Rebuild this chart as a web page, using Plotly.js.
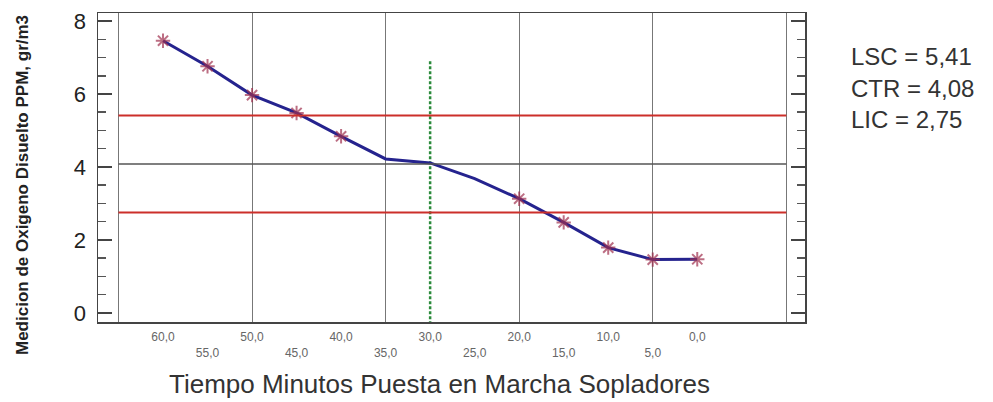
<!DOCTYPE html>
<html>
<head>
<meta charset="utf-8">
<script src="https://cdn.plot.ly/plotly-3.0.1.min.js"></script>
<style>html,body{margin:0;padding:0;background:#fff}#chart{width:993px;height:402px}</style>
</head>
<body>
<div id="chart"></div>
<script>
// ---- data ----
const minutes = [60, 55, 50, 45, 40, 35, 30, 25, 20, 15, 10, 5, 0];
const oxygen  = [7.46, 6.76, 5.97, 5.48, 4.84, 4.22, 4.11, 3.68, 3.13, 2.48, 1.79, 1.46, 1.47];
const tickLabels = ["60,0","55,0","50,0","45,0","40,0","35,0","30,0","25,0","20,0","15,0","10,0","5,0","0,0"];
const gridMinutes = [65, 50, 35, 20, 5, -10];
const yTicks = [0, 2, 4, 6, 8];
const LSC = 5.41, CTR = 4.08, LIC = 2.75;
const startMinute = 30;      // green marker line
const startTop = 6.9;
const limitLabels = ["LSC = 5,41", "CTR = 4,08", "LIC = 2,75"];
const xTitle = "Tiempo Minutos Puesta en Marcha Sopladores";
const yTitle = "Medicion de Oxigeno Disuelto PPM, gr/m3";

// ---- chart ----
const xRange = [67.3, -12.1];
const yRange = [-0.25, 8.22];
const lineX = [gridMinutes[0], gridMinutes[gridMinutes.length - 1]];

const traces = [
  {x: lineX, y: [LSC, LSC], mode: 'lines', line: {color: '#cc2f2a', width: 2}, xaxis: 'x2', hoverinfo: 'skip'},
  {x: lineX, y: [CTR, CTR], mode: 'lines', line: {color: '#555555', width: 1.5}, xaxis: 'x2', hoverinfo: 'skip'},
  {x: lineX, y: [LIC, LIC], mode: 'lines', line: {color: '#cc2f2a', width: 2}, xaxis: 'x2', hoverinfo: 'skip'},
  {x: [startMinute, startMinute], y: [startTop, yRange[0]], mode: 'lines',
   line: {color: '#2a8a3a', width: 2.5, dash: '3px,2px'}, hoverinfo: 'skip'},
  {x: minutes, y: oxygen, mode: 'lines+markers',
   line: {color: '#25238e', width: 3},
   marker: {symbol: 'asterisk-open', size: minutes.map(m => (m >= 25 && m <= 35) ? 0 : 12),
            color: '#a0304f', line: {color: '#a0304f', width: 2}}}
];

const annotations = [
  {text: xTitle, xref: 'paper', yref: 'paper', x: (439 - 98) / 707, y: (322 - 384) / 309,
   xanchor: 'center', yanchor: 'middle', showarrow: false,
   font: {family: 'Liberation Sans, Arial, sans-serif', size: 26, color: '#333'}},
  {text: yTitle, xref: 'paper', yref: 'paper', x: (22 - 98) / 707, y: (322 - 185) / 309,
   xanchor: 'center', yanchor: 'middle', textangle: -90, showarrow: false,
   font: {family: 'Liberation Sans, Arial, sans-serif', size: 17, color: '#222', weight: 'bold'}}
];
const labelY = [57, 89, 119];
limitLabels.forEach((t, i) => annotations.push({
  text: t, xref: 'paper', yref: 'paper', x: (849 - 98) / 707, y: (322 - labelY[i]) / 309,
  xanchor: 'left', yanchor: 'middle', showarrow: false,
  font: {family: 'Liberation Sans, Arial, sans-serif', size: 24, color: '#333'}
}));

const layout = {
  width: 993, height: 402,
  margin: {l: 98, r: 188, t: 13, b: 80},
  paper_bgcolor: '#fff', plot_bgcolor: '#fff',
  showlegend: false,
  font: {family: 'Liberation Sans, Arial, sans-serif'},
  xaxis: {range: xRange, tickvals: gridMinutes, showticklabels: false, ticks: '',
          showgrid: true, gridcolor: '#777', gridwidth: 1, zeroline: false,
          showline: true, mirror: true, linecolor: '#444', linewidth: 1.5},
  xaxis2: {range: xRange, overlaying: 'x', anchor: 'y', side: 'bottom',
           tickvals: minutes,
           ticktext: tickLabels.map((t, i) => i % 2 === 0 ? t : '&nbsp;<br>' + t),
           ticks: '', showgrid: false, zeroline: false, showline: false,
           ticklabelstandoff: 6,
           tickfont: {size: 12, color: '#666'}},
  yaxis: {range: yRange, tickvals: yTicks, ticks: 'inside', ticklen: 14, tickwidth: 1.5,
          tickcolor: '#444', showgrid: false, zeroline: false,
          showline: true, mirror: 'ticks', linecolor: '#444', linewidth: 1.5,
          minor: {tick0: 0, dtick: 0.5, ticks: 'inside', ticklen: 8, tickcolor: '#555', showgrid: false},
          ticklabelstandoff: 6,
          tickfont: {size: 22, color: '#222'}},
  annotations: annotations
};

Plotly.newPlot('chart', traces, layout, {displayModeBar: false, staticPlot: true});
</script>
</body>
</html>
